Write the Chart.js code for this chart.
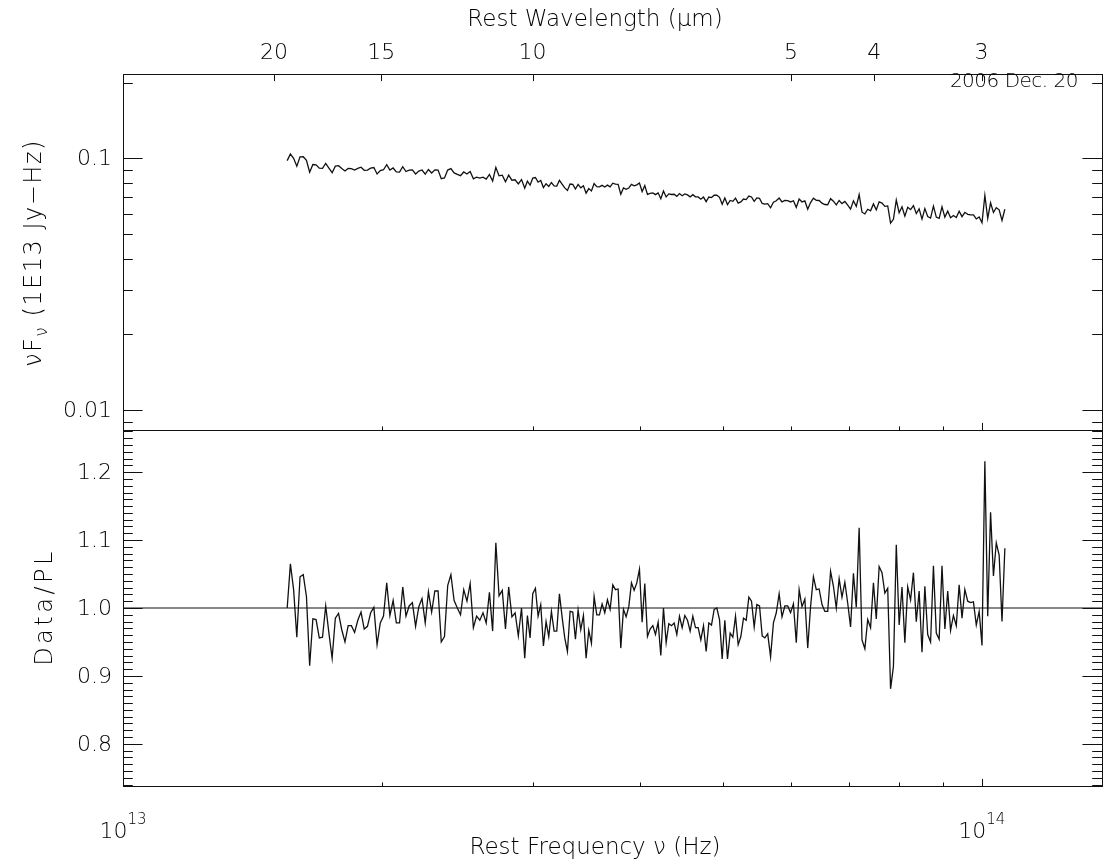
<!DOCTYPE html>
<html>
<head>
<meta charset="utf-8">
<script src="https://cdn.jsdelivr.net/npm/chart.js@4.4.1/dist/chart.umd.min.js"></script>
<style>
  body { margin: 0; background: #fff; }
  #wrap { position: relative; width: 1103px; height: 860px; }
  canvas { position: absolute; left: 0; }
  #topPanel { top: 0; }
  #botPanel { top: 430px; }
</style>
</head>
<body>
<div id="wrap">
  <canvas id="topPanel" width="1103" height="431"></canvas>
  <canvas id="botPanel" width="1103" height="430"></canvas>
</div>
<script>
// Data/PL ratio, from low frequency (long wavelength) upward
const ratioVals = [
  1.000, 1.065, 1.027, 0.957, 1.046, 1.049, 1.017, 0.915, 0.984, 0.983,
  0.956, 0.957, 1.003, 0.963, 0.926, 0.985, 0.992, 0.968, 0.950, 0.974,
  0.974, 0.964, 0.982, 0.994, 0.969, 0.973, 0.993, 1.001, 0.946, 0.978,
  0.988, 1.037, 0.989, 1.011, 0.978, 0.978, 1.031, 0.988, 1.003, 1.008,
  0.973, 1.002, 1.014, 0.978, 1.024, 0.994, 1.025, 1.025, 0.950, 0.958,
  1.033, 1.049, 1.011, 1.000, 0.990, 1.027, 1.010, 1.036, 0.971, 0.988,
  0.982, 0.993, 0.978, 1.023, 0.966, 1.096, 1.018, 1.026, 0.969, 1.031,
  0.987, 0.993, 0.959, 1.000, 0.926,
  0.989, 0.956, 1.021, 1.029, 0.988, 1.005, 0.944, 0.980, 0.958, 0.995,
  0.966, 0.966, 1.021, 0.987, 0.956, 0.936, 0.995, 0.994, 0.954, 0.997,
  0.968, 0.989, 0.926, 0.967, 0.948, 1.017, 0.990, 0.990, 1.006, 0.993,
  1.012, 0.998, 1.034, 1.027, 1.028, 0.941, 0.998, 0.987, 1.002, 1.037,
  1.026, 1.037, 1.057, 0.979, 1.036, 0.958, 0.969, 0.974, 0.961, 0.979,
  0.930, 1.000, 0.949, 0.977, 0.974, 0.978, 0.961, 0.988, 0.971, 0.989,
  0.982, 0.966, 0.988, 0.971, 0.971, 0.953, 0.974, 0.936, 0.978, 0.975,
  0.998, 1.000, 0.983, 0.925, 0.982, 0.925, 0.963, 0.957, 0.988, 0.946,
  0.958, 0.985, 0.982, 1.016, 1.010, 0.972, 1.005, 1.003, 0.959, 0.956,
  0.962, 0.928, 0.978, 0.993, 1.021, 0.987, 1.003, 1.003, 0.993, 1.006,
  0.949, 1.027, 1.002, 1.013, 0.941, 1.002, 1.046, 1.027, 1.028, 1.005,
  0.995, 0.995, 1.054, 1.032, 1.000, 1.043, 1.016, 1.038, 1.007, 0.972,
  1.051, 1.001, 1.118, 0.953, 0.940, 0.983, 0.971, 1.037, 0.984, 1.061,
  1.052, 1.022, 1.029, 0.881, 0.914, 1.093, 0.975, 1.031, 0.949, 1.031,
  1.012, 1.052, 0.980, 1.025, 0.935, 1.032, 0.961, 0.950, 1.062, 0.963,
  0.954, 1.062, 0.969, 1.025, 0.967, 0.989, 0.974, 1.034, 0.985, 1.027,
  1.010, 1.008, 1.009, 0.975, 0.995, 0.945, 1.216, 0.988, 1.141, 1.047,
  1.096, 1.078, 0.980, 1.088
];

// spectral grid: rest frequency (Hz) of a few samples, spacing is even in log nu between them
const gridIdx = [0, 74, 164, 248];
const gridNu = [1.553e13, 2.936e13, 5.589e13, 1.0636e14];

// power law that the ratio refers to (nuFnu in 1E13 Jy-Hz)
const plNorm = 0.0818;   // value at plNu0
const plNu0 = 3e13;
const plIndex = -0.275;

// axis ranges
const freqRange = [1e13, 1.38e14];
const fluxRange = [0.00833, 0.2167];
const ratioRange = [0.738, 1.262];

// ticks
const freqMajor = [1e13, 1e14];
const freqMajorLabels = ['13', '14'];
const freqMinor = [2e13, 3e13, 4e13, 5e13, 6e13, 7e13, 8e13, 9e13];
const wlTicks = [20, 15, 10, 5, 4, 3];
const wlLabels = ['20', '15', '10', '5', '4', '3'];
const fluxMajor = [0.01, 0.1];
const fluxLabels = ['0.01', '0.1'];
const fluxMinor = [0.009, 0.02, 0.03, 0.04, 0.05, 0.06, 0.07, 0.08, 0.09, 0.2];
const ratioMajor = [0.8, 0.9, 1.0, 1.1, 1.2];
const ratioLabels = ['0.8', '0.9', '1.0', '1.1', '1.2'];

const cLight = 2.998e14; // micron Hz

let freqs = [];
for (let s = 0; s < gridIdx.length - 1; s++) {
  let i0 = gridIdx[s], i1 = gridIdx[s + 1];
  for (let i = (s === 0 ? i0 : i0 + 1); i <= i1; i++) {
    freqs.push(gridNu[s] * Math.pow(gridNu[s + 1] / gridNu[s], (i - i0) / (i1 - i0)));
  }
}
let fluxPts = [];
let ratioPts = [];
for (let i = 0; i < ratioVals.length; i++) {
  let pl = plNorm * Math.pow(freqs[i] / plNu0, plIndex);
  fluxPts.push({ x: freqs[i], y: ratioVals[i] * pl });
  ratioPts.push({ x: freqs[i], y: ratioVals[i] });
}

const FONT = '"DejaVu Sans", "Open Sans", sans-serif';
const INK = '#111';
const TEXT = '#000';

function font(size) { return '200 ' + size + 'px ' + FONT; }

// IDL style: inward ticks, x ticks 2% of plot height, y ticks 2% of plot width
function xTicks(ctx, sx, area, y, dir, values, len) {
  values.forEach(function(v) {
    let px = Math.round(sx.getPixelForValue(v)) + 0.5;
    ctx.moveTo(px, y);
    ctx.lineTo(px, y + dir * len);
  });
}
function yTicks(ctx, sy, area, values, len) {
  values.forEach(function(v) {
    let py = Math.round(sy.getPixelForValue(v)) + 0.5;
    ctx.moveTo(area.left, py);
    ctx.lineTo(area.left + len, py);
    ctx.moveTo(area.right, py);
    ctx.lineTo(area.right - len, py);
  });
}

function rotatedText(ctx, parts, cx, cy, spacing) {
  ctx.save();
  ctx.translate(cx, cy);
  ctx.rotate(-Math.PI / 2);
  ctx.letterSpacing = spacing + 'px';
  let w = 0;
  parts.forEach(function(p) { ctx.font = font(p.size); w += ctx.measureText(p.t).width; });
  let x = -w / 2;
  ctx.textBaseline = 'alphabetic';
  ctx.textAlign = 'left';
  parts.forEach(function(p) {
    ctx.font = font(p.size);
    ctx.fillText(p.t, x, p.dy);
    x += ctx.measureText(p.t).width;
  });
  ctx.restore();
}

const topAxes = {
  id: 'topAxes',
  afterDraw(chart) {
    let ctx = chart.ctx, a = chart.chartArea;
    let sx = chart.scales.x, sy = chart.scales.y;
    ctx.save();
    ctx.strokeStyle = INK;
    ctx.lineWidth = 1;
    ctx.strokeRect(a.left + 0.5, a.top + 0.5, a.right - a.left, a.bottom - a.top);
    ctx.beginPath();
    let h = a.bottom - a.top, w = a.right - a.left;
    xTicks(ctx, sx, a, a.bottom, -1, freqMajor, 0.02 * h);
    xTicks(ctx, sx, a, a.bottom, -1, freqMinor, 0.01 * h);
    xTicks(ctx, sx, a, a.top, 1, wlTicks.map(function(l) { return cLight / l; }), 0.02 * h);
    yTicks(ctx, sy, a, fluxMajor, 0.02 * w);
    yTicks(ctx, sy, a, fluxMinor, 0.01 * w);
    ctx.stroke();

    ctx.fillStyle = TEXT;
    ctx.font = font(22);
    ctx.textAlign = 'right';
    ctx.textBaseline = 'middle';
    fluxMajor.forEach(function(v, i) {
      ctx.fillText(fluxLabels[i], 112, sy.getPixelForValue(v) + 1);
    });
    ctx.textAlign = 'center';
    wlTicks.forEach(function(l, i) {
      ctx.fillText(wlLabels[i], sx.getPixelForValue(cLight / l), 53);
    });
    ctx.font = font(23);
    ctx.fillText('Rest Wavelength (\u03bcm)', 595, 20);
    ctx.textAlign = 'right';
    ctx.font = font(20);
    ctx.letterSpacing = '-0.5px';
    ctx.fillText('2006 Dec. 20', 1078, 82);
    ctx.letterSpacing = '0px';
    rotatedText(ctx, [
      { t: '\u03bdF', size: 24, dy: 0 },
      { t: '\u03bd', size: 17, dy: 6 },
      { t: ' (1E13 Jy\u2212Hz)', size: 24, dy: 0 }
    ], 41, 253, 1.5);
    ctx.restore();
  }
};

const botAxes = {
  id: 'botAxes',
  afterDraw(chart) {
    let ctx = chart.ctx, a = chart.chartArea;
    let sx = chart.scales.x, sy = chart.scales.y;
    ctx.save();
    ctx.strokeStyle = INK;
    ctx.lineWidth = 1;
    ctx.strokeRect(a.left + 0.5, a.top + 0.5, a.right - a.left, a.bottom - a.top);
    ctx.beginPath();
    let h = a.bottom - a.top, w = a.right - a.left;
    xTicks(ctx, sx, a, a.bottom, -1, freqMajor, 0.02 * h);
    xTicks(ctx, sx, a, a.bottom, -1, freqMinor, 0.01 * h);
    yTicks(ctx, sy, a, ratioMajor, 0.02 * w);
    let minor = [];
    for (let k = 74; k <= 126; k++) minor.push(k / 100);
    yTicks(ctx, sy, a, minor, 0.01 * w);
    ctx.stroke();

    ctx.fillStyle = TEXT;
    ctx.font = font(22);
    ctx.textAlign = 'right';
    ctx.textBaseline = 'middle';
    ratioMajor.forEach(function(v, i) {
      ctx.fillText(ratioLabels[i], 112, sy.getPixelForValue(v) + 1);
    });
    // 10^n labels
    freqMajor.forEach(function(v, i) {
      let px = sx.getPixelForValue(v);
      ctx.font = font(22);
      let w1 = ctx.measureText('10').width;
      ctx.font = font(15);
      let w2 = ctx.measureText(freqMajorLabels[i]).width;
      let x0 = px - (w1 + w2) / 2;
      ctx.textAlign = 'left';
      ctx.textBaseline = 'alphabetic';
      ctx.font = font(22);
      ctx.fillText('10', x0, a.bottom + 52);
      ctx.font = font(15);
      ctx.fillText(freqMajorLabels[i], x0 + w1, a.bottom + 38);
    });
    ctx.textAlign = 'center';
    ctx.font = font(23);
    ctx.fillText('Rest Frequency \u03bd (Hz)', 595, a.bottom + 68);
    rotatedText(ctx, [{ t: 'Data/PL', size: 24, dy: 0 }], 52, 177, 3.5);
    ctx.restore();
  }
};

function makePanel(id, points, yType, yRange, pad, extraSets, plugin) {
  let sets = [{
    data: points,
    borderColor: INK,
    borderWidth: 1.3,
    pointRadius: 0,
    tension: 0,
    fill: false
  }].concat(extraSets);
  return new Chart(document.getElementById(id), {
    type: 'line',
    data: { datasets: sets },
    options: {
      responsive: false,
      animation: false,
      layout: { padding: pad },
      plugins: { legend: { display: false }, tooltip: { enabled: false } },
      scales: {
        x: { type: 'logarithmic', min: freqRange[0], max: freqRange[1], display: false },
        y: { type: yType, min: yRange[0], max: yRange[1], display: false }
      }
    },
    plugins: [plugin]
  });
}

makePanel('topPanel', fluxPts, 'logarithmic', fluxRange,
  { left: 123, right: 1, top: 74, bottom: 1 }, [], topAxes);

// unit line across the ratio panel
let unityLine = [{ x: freqRange[0], y: 1.0 }, { x: freqRange[1], y: 1.0 }];
makePanel('botPanel', ratioPts, 'linear', ratioRange,
  { left: 123, right: 1, top: 0, bottom: 74 },
  [{ data: unityLine, borderColor: INK, borderWidth: 1.2, pointRadius: 0, fill: false }],
  botAxes);
</script>
</body>
</html>
